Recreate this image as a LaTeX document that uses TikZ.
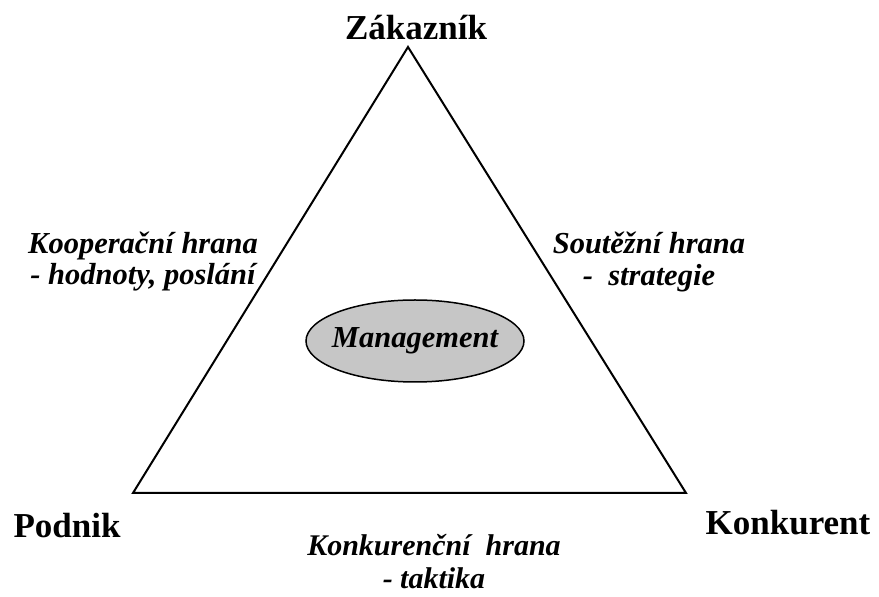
\documentclass[tikz,border=0pt]{standalone}
\usepackage{fontspec}
\setmainfont{Liberation Serif}
\usetikzlibrary{shapes.geometric}
\begin{document}
\begin{tikzpicture}[x=1pt,y=1pt,
  corner/.style={font=\fontsize{35}{38}\selectfont\bfseries, inner sep=0pt},
  edgelabel/.style={font=\fontsize{30.5}{31}\selectfont\bfseries\itshape, align=center, inner sep=0pt},
  side/.style={line width=2pt, line join=miter}]
\useasboundingbox (0,0) rectangle (879,597);
\coordinate (A) at (408,550);
\coordinate (B) at (133,104);
\coordinate (C) at (686,104);
\draw[side] (A) -- (B) -- (C) -- cycle;
\node[ellipse, draw, line width=1.5pt, fill=gray!45, minimum width=218pt, minimum height=82pt, inner sep=0pt] (m) at (415,256) {};
\node[edgelabel] (mt) at (m) {Management};
\node[corner] (z) at (416,569) {Zákazník};
\node[corner] (p) at (67,71) {Podnik};
\node[corner] (k) at (788,74) {Konkurent};
\node[edgelabel] (l1) at (143,335) {Kooperační hrana\\- hodnoty, poslání};
\node[edgelabel] (l2) at (649,335) {Soutěžní hrana\\-\ \ strategie};
\node[edgelabel, font=\fontsize{30}{33}\selectfont\bfseries\itshape] (l3) at (434,35) {Konkurenční\ \ hrana\\- taktika};
\end{tikzpicture}
\end{document}
